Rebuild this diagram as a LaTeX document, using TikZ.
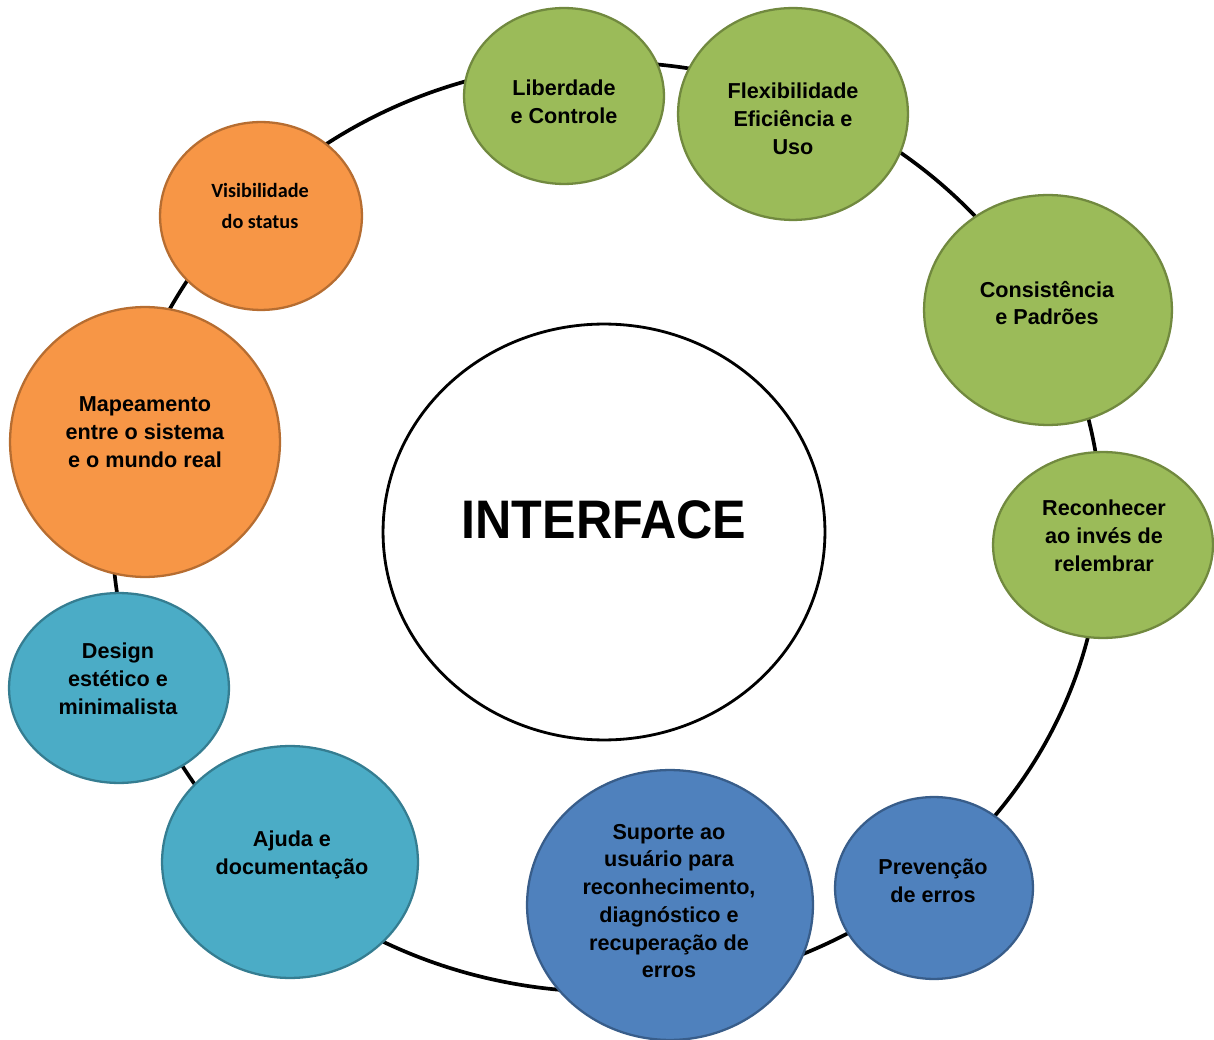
\documentclass[tikz,border=0pt]{standalone}
\usepackage{fontspec}
\setmainfont{Liberation Sans}
\newfontfamily\calibrifont{Carlito}
\usetikzlibrary{shapes.geometric}

\definecolor{greenfill}{HTML}{9BBB59}
\definecolor{greenline}{HTML}{71893F}
\definecolor{orangefill}{HTML}{F79646}
\definecolor{orangeline}{HTML}{B66D31}
\definecolor{tealfill}{HTML}{4BACC6}
\definecolor{tealline}{HTML}{357D91}
\definecolor{bluefill}{HTML}{4F81BD}
\definecolor{blueline}{HTML}{385D8A}

\begin{document}
\begin{tikzpicture}[x=0.02cm, y=-0.02cm,
  bubble/.style n args={3}{ellipse, draw=#1line, fill=#1fill, line width=1.3pt, inner sep=0pt,
    minimum width=#2*0.04cm, minimum height=#3*0.04cm},
  bubbletext/.style={align=center, text=black, font=\bfseries\fontsize{12.3}{15.8}\selectfont},
]

\useasboundingbox (0,0) rectangle (1214,1040);

% Draw the ring that carries the bubbles
\draw [line width=2.1pt] (607,527) ellipse [x radius=9.9cm, y radius=9.3cm];

% Centre
\node[ellipse, draw, line width=1.6pt, fill=white, inner sep=0pt,
  minimum width=8.84cm, minimum height=8.32cm] (iface) at (604,532) {};
\node[font=\bfseries\fontsize{28.6}{32}\selectfont, yscale=1.08] (ifacetext) at (604,520) {INTERFACE};

% Green bubbles
\node[bubble={green}{100}{88}]  (liberdade) at (564,96) {};
\node[bubbletext] (liberdadetext) at (564,102) {Liberdade\\e Controle};

\node[bubble={green}{115}{106}] (flexibilidade) at (793,114) {};
\node[bubbletext] (flexibilidadetext) at (793,119) {Flexibilidade\\Eficiência e\\Uso};

\node[bubble={green}{124}{115}] (consistencia) at (1048,310) {};
\node[bubbletext] (consistenciatext) at (1047,303) {Consistência\\e Padrões};

\node[bubble={green}{110}{93}]  (reconhecer) at (1103,545) {};
\node[bubbletext] (reconhecertext) at (1104,536) {Reconhecer\\ao invés de\\relembrar};

% Blue bubbles
\node[bubble={blue}{99}{91}]    (prevencao) at (934,888) {};
\node[bubbletext] (prevencaotext) at (933,881) {Prevenção\\de erros};

\node[bubble={blue}{143}{135}]  (suporte) at (670,905) {};
\node[bubbletext] (suportetext) at (669,901) {Suporte ao\\usuário para\\reconhecimento,\\diagnóstico e\\recuperação de\\erros};

% Teal bubbles
\node[bubble={teal}{128}{116}]  (ajuda) at (290,862) {};
\node[bubbletext] (ajudatext) at (292,855) {Ajuda e\\documentação};

\node[bubble={teal}{110}{95}]   (design) at (119,688) {};
\node[bubbletext] (designtext) at (118,679) {Design\\estético e\\minimalista};

% Orange bubbles
\node[bubble={orange}{135}{135}] (mapeamento) at (145,442) {};
\node[bubbletext] (mapeamentotext) at (145,432) {Mapeamento\\entre o sistema\\e o mundo real};

\node[bubble={orange}{101}{94}] (visibilidade) at (261,216) {};
\node[bubbletext, font=\calibrifont\bfseries\fontsize{11.5}{18}\selectfont] (visibilidadetext) at (260,206) {Visibilidade\\do status};

\end{tikzpicture}
\end{document}
